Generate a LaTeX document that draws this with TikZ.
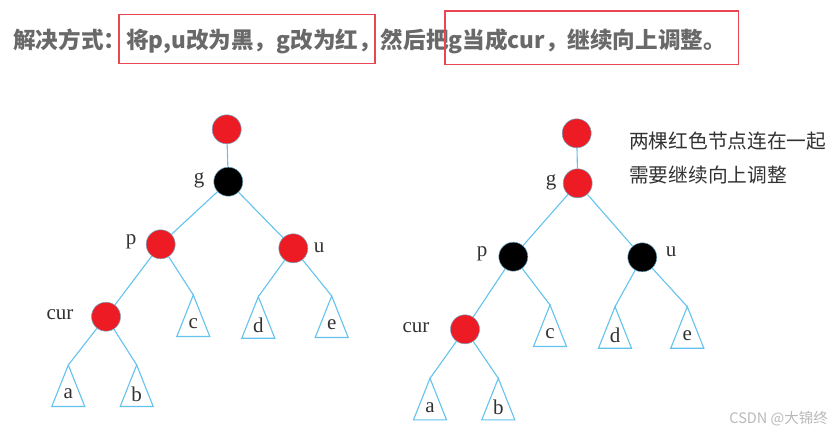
\documentclass[tikz,border=0pt]{standalone}
\usepackage{fontspec}
\setmainfont{Liberation Serif}
\newfontfamily\cjk{Noto Sans CJK SC}
\definecolor{nred}{RGB}{237,28,36}
\definecolor{eblue}{RGB}{100,195,238}
\definecolor{boxred}{RGB}{232,70,80}
\definecolor{headgray}{RGB}{105,105,105}
\definecolor{txtgray}{RGB}{50,50,50}
\definecolor{wmgray}{RGB}{185,185,185}
\begin{document}
\begin{tikzpicture}[x=1pt,y=-1pt,
  rb/.style={circle,fill=nred,draw=eblue!60!gray,line width=0.5pt,minimum size=29pt,inner sep=0pt},
  bb/.style={circle,fill=black,draw=eblue!60!gray,line width=0.5pt,minimum size=29pt,inner sep=0pt},
  edge/.style={draw=eblue,line width=1.1pt},
  tri/.style={draw=eblue,line width=1.1pt,line join=miter},
  lab/.style={font=\fontsize{21}{23}\selectfont,text=txtgray,inner sep=0pt},
  hbox/.style={draw=boxred,line width=1.1pt}]
\useasboundingbox (0,0) rectangle (840,435);
\fill[white] (0,0) rectangle (840,435);
% header
\node[anchor=west,inner sep=0pt,text=headgray,font=\cjk\bfseries\fontsize{22.6}{25}\selectfont] (head) at (13,41)
  {解决方式：将p,u改为黑，g改为红，然后把g当成cur，继续向上调整。};
\draw[hbox] (119,14.3) rectangle (375,63.3);
\draw[hbox] (445,11) rectangle (738.3,64.3);
% subtrees
\foreach \n/\x/\y/\t in {lc/193.3/295/c, ld/258.3/296.7/d, le/331.7/296/e, la/68.3/365/a, lb/136.7/365/b,
  rc/550/305/c, rd/615/306.7/d, re/687.3/306.7/e, ra/430/378.3/a, rbb/498.3/378.3/b}{
  \coordinate (\n) at (\x,\y);
  \draw[tri] (\n) -- ++(-16.5,41.5) -- ++(33,0) -- cycle;
  \node[lab] (\n-l) at (\x,\y+29) {\t};
}
% left tree
\node[rb] (r1) at (226.7,129.3) {};
\node[bb] (g1) at (228.3,181.7) {};
\node[rb] (p1) at (160.7,244.3) {};
\node[rb] (u1) at (293.3,248.3) {};
\node[rb] (c1) at (106,316.7) {};
\draw[edge] (r1) -- (g1);
\draw[edge] (g1) -- (p1);
\draw[edge] (g1) -- (u1);
\draw[edge] (p1) -- (c1);
\draw[edge] (p1) -- (lc);
\draw[edge] (u1) -- (ld);
\draw[edge] (u1) -- (le);
\draw[edge] (c1) -- (la);
\draw[edge] (c1) -- (lb);
\node[lab] (g1l) at (199,180) {g};
\node[lab] (p1l) at (131,242) {p};
\node[lab] (u1l) at (319,248) {u};
\node[lab] (c1l) at (60,315) {cur};
% right tree
\node[rb] (r2) at (576.7,133.3) {};
\node[rb] (g2) at (577.7,183.3) {};
\node[bb] (p2) at (513.3,256.7) {};
\node[bb] (u2) at (642.3,257.3) {};
\node[rb] (c2) at (465,329.3) {};
\draw[edge] (r2) -- (g2);
\draw[edge] (g2) -- (p2);
\draw[edge] (g2) -- (u2);
\draw[edge] (p2) -- (c2);
\draw[edge] (p2) -- (rc);
\draw[edge] (u2) -- (rd);
\draw[edge] (u2) -- (re);
\draw[edge] (c2) -- (ra);
\draw[edge] (c2) -- (rbb);
\node[lab] (g2l) at (551,182) {g};
\node[lab] (p2l) at (482,254) {p};
\node[lab] (u2l) at (671,252) {u};
\node[lab] (c2l) at (416,328) {cur};
% annotation
\node[anchor=west,inner sep=0pt,text=txtgray,font=\cjk\fontsize{19.7}{22}\selectfont] (n1) at (629,141) {两棵红色节点连在一起};
\node[anchor=west,inner sep=0pt,text=txtgray,font=\cjk\fontsize{19.7}{22}\selectfont] (n2) at (629,175) {需要继续向上调整};
\node[anchor=east,inner sep=0pt,text=wmgray,font=\cjk\fontsize{14.5}{16}\selectfont] (wm) at (828,419) {CSDN @大锦终};
\end{tikzpicture}
\end{document}
